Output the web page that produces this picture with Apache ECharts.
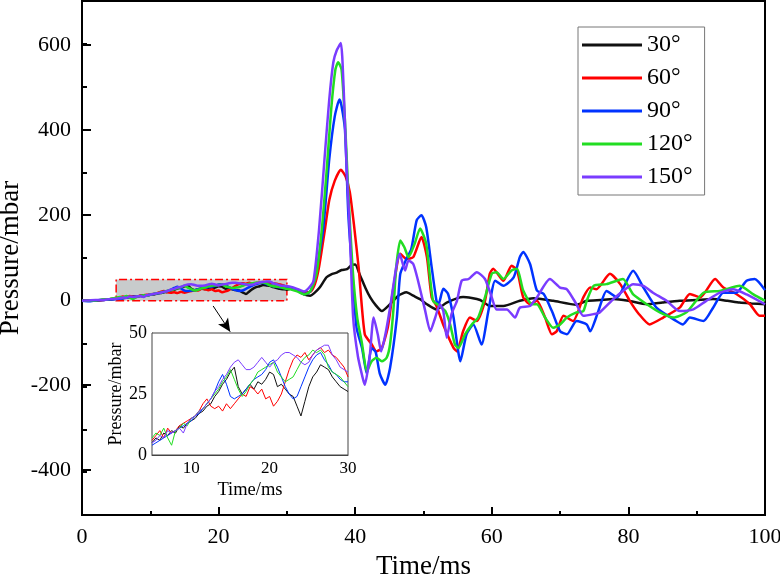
<!DOCTYPE html>
<html>
<head>
<meta charset="utf-8">
<script src="https://cdn.jsdelivr.net/npm/echarts@6/dist/echarts.min.js"></script>
<style>html,body{margin:0;padding:0;background:#fff}#c{width:780px;height:576px}</style>
</head>
<body>
<div id="c"></div>
<script>
// ---------- data ----------
const names = ['30°', '60°', '90°', '120°', '150°'];
const colors = ['#111111', '#ff0000', '#0033ff', '#22dd22', '#7a3cff'];

const t_early = [0, 1, 2, 3, 4];
const black_early = [0, 1, 0, 2, 3];
const red_early = [0, 0, 1, 2, 4];
const blue_early = [0, -1, 1, 2, 3];
const green_early = [0, 1, 1, 3, 4];
const purple_early = [0, 1, 2, 2, 4];

const t_inset = [5,5.5,6,6.5,7,7.5,8,8.5,9,9.5,10,10.5,11,11.5,12,12.5,13,13.5,14,14.5,15,15.5,16,16.5,17,17.5,18,18.5,19,19.5,20,20.5,21,21.5,22,22.5,23,23.5,24,24.5,25,25.5,26,26.5,27,27.5,28,28.5,29,29.5,30];
const black_inset = [5,7,6,9,8,10,9,12,11,13,14,15,17,18,20,21,24,26,29,31,34,36,28,25,27,29,27,30,29,31,34,33,28,29,27,25,24,20,16,22,28,32,34,37,36,35,32,30,28,27,26];
const red_inset = [6,8,10,7,11,9,10,12,13,14,15,16,18,21,23,20,19,20,18,21,19,21,23,25,24,28,27,25,27,23,24,20,22,25,30,35,39,41,40,42,39,41,43,44,42,43,41,40,38,36,32];
const blue_inset = [4,5,6,7,8,9,10,11,12,13,14,16,17,19,21,23,26,30,33,29,24,23,24,25,27,29,31,32,33,35,38,39,36,32,28,25,23,24,28,32,36,39,41,42,39,37,34,33,31,30,30];
const green_inset = [7,9,8,11,7,4,10,11,13,12,15,16,18,19,21,23,25,27,30,32,35,31,27,24,26,29,31,34,35,36,37,38,34,32,30,31,32,35,38,40,41,43,42,43,41,36,34,33,32,30,28];
const purple_inset = [5,6,8,7,10,9,10,11,9,13,15,16,18,19,21,23,26,28,31,33,36,38,39,37,35,35,36,38,40,38,36,38,39,41,42,42,41,40,38,37,38,41,43,44,45,45,41,39,36,35,34];

const black_late_t = [30.5,31.5,32.5,33.4,34,34.8,35.8,36.5,37.3,38,38.8,39.5,40,40.7,41.5,42.2,43,43.9,45.1,46.3,47.5,48.5,49.5,50.5,51.9,53.4,55.8,58.3,59.7,61.7,64.1,66.1,69,72.4,73.9,75.9,77.8,80,82.7,85,87.5,90,92.4,94.5,96.3,98,100];
const black_late_p = [28,25,15,12,18,31,55,62,66,72,74,84,85,60,30,8,-10,-24,-8,12,20,12,4,-8,-20,-4,9,2,-12,-12,0,6,0,-9,0,2,4,0,-8,-4,0,2,4,0,-4,-6,-8];

const red_late_t = [30.5,31.5,32.5,33.5,34.1,34.6,35.1,35.6,36.2,37,37.9,38.6,39.2,39.8,40.5,41.4,42.4,43.1,43.9,44.8,45.6,46.6,47.5,48.5,49.7,50.5,51.2,51.9,53,54.4,54.9,55.8,56.8,57.8,59,59.7,60.2,61.7,62.9,63.7,64.6,65.6,66.6,67.8,68.8,69.5,70.5,71.9,73.4,74.4,75.3,77.3,78.8,80.2,81.5,83.1,85.1,87.5,89,90.5,92.7,93.9,95.8,97.8,99.2,100];
const red_late_p = [30,26,20,22,39,70,118,170,235,280,306,290,255,180,78,-78,-101,-118,-110,-60,31,110,98,102,149,102,8,-12,-60,-110,-118,-71,-39,-47,0,63,75,47,82,71,8,-8,0,-39,-78,-71,-35,-47,8,31,27,63,39,0,-30,-55,-39,-16,16,8,51,31,16,-8,-35,-35];

const blue_late_t = [30.5,31.5,32.5,33.3,33.7,34.3,35.3,36.2,37,37.7,38,38.5,39,39.6,40.2,41,41.7,42.4,43,43.6,44.4,45.1,46.1,46.6,47.5,48.2,49,49.7,50.4,51.2,51.9,52.2,52.9,53.6,54.4,55.4,56.3,57.3,58.5,59.5,60.5,61.7,63.2,64.1,64.6,65.6,66.6,67.6,68.8,70,71,72.4,73.9,74.4,75.6,76.8,78.3,80.7,82.2,84.1,87,88,89,91,92.4,93.9,95.8,97.3,98.5,100];
const blue_late_p = [30,24,16,20,31,70,165,330,430,470,455,400,200,60,-63,-110,-170,-110,-120,-170,-196,-157,-39,63,98,120,188,200,172,78,0,-8,28,16,-39,-141,-78,-55,-102,-24,47,35,55,102,114,86,24,16,-24,-71,-78,-47,-55,-71,-24,23,8,70,31,-16,-47,-55,-39,-47,-16,19,19,47,51,25];

const green_late_t = [30.5,31.5,32.5,33.4,34.3,35.1,35.8,36.5,37.1,37.5,38,38.5,39,39.6,40.3,41,41.7,42.4,43.1,43.9,44.6,45.1,45.6,46,46.6,47.2,47.8,48.7,49.5,50.4,51.4,52.4,53.2,53.9,54.6,55.1,56.1,57.1,58,59,60,60.7,61.7,62.9,63.7,64.6,65.9,66.6,67.8,69,70,71,72.4,73.4,73.9,74.9,76.8,79.2,80.7,82.7,84.6,86.6,88.5,91,93.4,96.3,98.3,100];
const green_late_p = [27,22,15,22,60,165,300,450,540,557,540,420,250,80,-40,-100,-165,-141,-133,-141,-133,-102,-20,78,141,125,102,133,169,133,0,-12,-24,-55,-102,-110,-78,-55,-39,8,63,67,51,71,75,24,-8,-8,-39,-63,-55,-39,-27,-24,0,35,39,51,15,-8,-27,-39,-27,19,23,35,15,0];

const purple_late_t = [30.5,31.5,32.5,33.2,33.9,34.7,35.5,36.2,36.8,37.3,37.9,38.3,38.7,39.2,39.7,40.4,41.1,41.4,42.1,42.7,43.3,43.8,44.4,45.1,46,46.5,47.3,47.8,48.5,49.2,50.2,51,51.7,52.4,52.9,53.4,54.1,54.9,55.6,56.6,57.8,59,60,60.7,62.2,63.4,64.1,65.6,66.6,68.5,70,71,72.4,73.4,74.9,75.8,77.8,79.2,80.7,82.2,83.6,85.6,87.5,89.5,91.4,93.4,95.3,97.3,100];
const purple_late_p = [33,28,22,30,47,165,330,470,557,585,602,500,330,165,-39,-130,-180,-196,-133,-39,-78,-118,-80,-16,78,110,71,94,86,47,-20,-71,-40,-8,-24,-86,-31,0,47,51,67,51,8,-20,-20,-39,-16,-12,8,51,31,27,-8,-35,-31,-27,4,23,39,35,19,0,-24,-20,0,19,27,15,-8];

// zoom box and arrow annotation (data coordinates)
const boxFrom = [5, 0], boxTo = [30, 50];
const arrowFrom = [19.2, -12], arrowTo = [21.7, -72];

// ---------- build ----------
const pair = (tA, pA) => tA.map((t, i) => [t, pA[i]]);
const early = [black_early, red_early, blue_early, green_early, purple_early];
const inset = [black_inset, red_inset, blue_inset, green_inset, purple_inset];
const lateT = [black_late_t, red_late_t, blue_late_t, green_late_t, purple_late_t];
const lateP = [black_late_p, red_late_p, blue_late_p, green_late_p, purple_late_p];

const FF = 'Liberation Serif';
const series = [];
names.forEach((n, i) => {
  const s = {
    name: n, type: 'line', xAxisIndex: 0, yAxisIndex: 0, symbol: 'none', smooth: 0.2,
    color: colors[i], lineStyle: {width: 2.5, color: colors[i]},
    data: pair(t_early, early[i]).concat(pair(t_inset, inset[i])).concat(pair(lateT[i], lateP[i])),
    z: 3
  };
  if (i === 0) {
    s.markArea = {silent: true, itemStyle: {color: '#c8cbcc', borderColor: '#ff0000', borderWidth: 1.5, borderType: [8, 3, 2, 3]},
      data: [[{coord: boxFrom}, {coord: boxTo}]]};
    s.markLine = {silent: true, symbol: ['none', 'arrow'], symbolSize: [9, 13],
      lineStyle: {color: '#000', width: 1, type: 'solid'}, label: {show: false},
      data: [[{coord: arrowFrom}, {coord: arrowTo}]]};
  }
  series.push(s);
});
names.forEach((n, i) => {
  series.push({
    name: n, type: 'line', xAxisIndex: 1, yAxisIndex: 1, symbol: 'none',
    color: colors[i], lineStyle: {width: 1, color: colors[i]},
    data: pair(t_inset, inset[i]), z: 5
  });
});

const chart = echarts.init(document.getElementById('c'));
chart.setOption({
  animation: false,
  backgroundColor: '#fff',
  textStyle: {fontFamily: FF, color: '#000'},
  grid: [
    {left: 82, right: 15, top: 1, bottom: 61, show: true, borderColor: '#000', borderWidth: 2, containLabel: false, outerBoundsMode: 'none'},
    {left: 152, top: 333, width: 196, height: 122, show: true, borderColor: '#444', borderWidth: 1, backgroundColor: '#fff', containLabel: false, outerBoundsMode: 'none', z: 4},
    {left: 82, right: 15, top: 45, bottom: 106, show: false, containLabel: false, outerBoundsMode: 'none'}
  ],
  legend: {
    data: names, orient: 'vertical', left: 578, top: 27,
    padding: [6, 12, 6, 4], itemWidth: 60, itemHeight: 3, itemGap: 9, icon: 'rect',
    borderColor: '#777', borderWidth: 1, backgroundColor: '#fff',
    textStyle: {fontFamily: FF, fontSize: 24, color: '#000'}
  },
  xAxis: [
    {gridIndex: 0, type: 'value', min: 0, max: 100, interval: 20,
      axisLine: {onZero: false, lineStyle: {color: '#000', width: 2}},
      axisTick: {inside: true, length: 8, lineStyle: {width: 2, color: '#000'}},
      minorTick: {show: true, splitNumber: 2, length: 4, lineStyle: {width: 2, color: '#000'}},
      splitLine: {show: false},
      axisLabel: {fontFamily: FF, fontSize: 22, color: '#000', margin: 11},
      name: 'Time/ms', nameLocation: 'middle', nameGap: 38,
      nameTextStyle: {fontFamily: FF, fontSize: 27, color: '#000'}},
    {gridIndex: 1, type: 'value', min: 5, max: 30, interval: 5,
      axisLine: {onZero: false, lineStyle: {color: '#444', width: 1}},
      axisTick: {show: false}, splitLine: {show: false},
      axisLabel: {fontFamily: FF, fontSize: 17, color: '#000', margin: 5,
        formatter: v => (v % 10 === 0 ? String(v) : '')},
      name: 'Time/ms', nameLocation: 'middle', nameGap: 26,
      nameTextStyle: {fontFamily: FF, fontSize: 18.5, color: '#000'}},
    {gridIndex: 2, type: 'value', min: 0, max: 1, show: false}
  ],
  yAxis: [
    {gridIndex: 0, type: 'value', min: -500, max: 700, interval: 100,
      axisLine: {show: true, onZero: false, lineStyle: {color: '#000', width: 2}},
      axisTick: {show: true, inside: true, length: 5, lineStyle: {width: 2, color: '#000'}},
      splitLine: {show: false}, axisLabel: {show: false},
      name: 'Pressure/mbar', nameLocation: 'middle', nameGap: 58,
      nameTextStyle: {fontFamily: FF, fontSize: 27, color: '#000'}},
    {gridIndex: 1, type: 'value', min: 0, max: 50, interval: 25,
      axisLine: {show: true, onZero: false, lineStyle: {color: '#444', width: 1}},
      axisTick: {show: false}, splitLine: {show: false},
      axisLabel: {fontFamily: FF, fontSize: 18, color: '#000', margin: 5},
      name: 'Pressure/mbar', nameLocation: 'middle', nameGap: 22,
      nameTextStyle: {fontFamily: FF, fontSize: 18, color: '#000'}},
    {gridIndex: 2, type: 'value', min: -400, max: 600, interval: 200,
      axisLine: {show: false, onZero: false},
      axisTick: {show: true, inside: true, length: 9, lineStyle: {width: 2, color: '#000'}},
      splitLine: {show: false},
      axisLabel: {fontFamily: FF, fontSize: 22, color: '#000', margin: 11}}
  ],
  series: series
});
</script>
</body>
</html>
